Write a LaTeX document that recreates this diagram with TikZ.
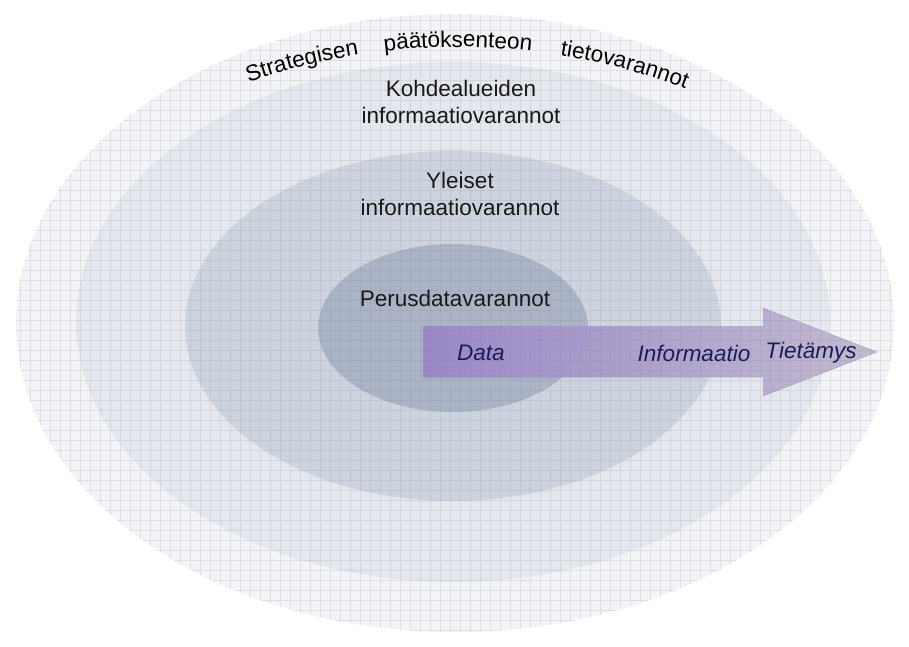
\documentclass[tikz,border=0pt]{standalone}
\usepackage{fontspec}
\setmainfont{Liberation Sans}
\usepackage{xcolor}
\usetikzlibrary{decorations.text}

\definecolor{ringOuter}{HTML}{F3F4F7}
\definecolor{ringSecond}{HTML}{E4E7ED}
\definecolor{ringThird}{HTML}{CED4DF}
\definecolor{ringInner}{HTML}{AAB4C6}
\definecolor{arrowLeft}{HTML}{B9A2F2}
\definecolor{arrowRight}{HTML}{E8DEFA}
\definecolor{arrowText}{HTML}{1C1C5C}

\newcommand{\toptxt}{\fontsize{16}{19}\selectfont}

\tikzset{
    lbl/.style={font=\fontsize{16}{19}\selectfont, text=black!90, align=center},
    arrlbl/.style={font=\fontsize{16}{19}\selectfont\itshape, text=arrowText},
    gridline/.style={draw=gray, line width=0.25pt, opacity=0.18},
    arctext/.style={decorate, decoration={text along path, text align=center, text={|\toptxt|#1}}}
}

\begin{document}
\begin{tikzpicture}[x=0.025cm,y=0.025cm]
            \useasboundingbox (0,0) rectangle (909,-646);
            \fill[white] (0,0) rectangle (909,-646);

            \fill[ringOuter] (455,-323) ellipse [x radius=439, y radius=309];
            \fill[ringSecond] (453,-322) ellipse [x radius=377, y radius=260];
            \fill[ringThird] (453,-326) ellipse [x radius=268, y radius=175];
            \fill[ringInner] (453,-328) ellipse [x radius=135, y radius=84];

            \fill[left color=arrowLeft, right color=arrowRight, fill opacity=0.8]
                (423,-326) -- (763,-326) -- (763,-308) -- (877,-352)
                -- (763,-396) -- (763,-377) -- (423,-377) -- cycle;

            \begin{scope}
                \clip (455,-323) ellipse [x radius=439, y radius=309];
                \draw[gridline, step=10] (0,0) grid (909,-646);
            \end{scope}

            \path[arctext=Strategisen] ([shift={(112:640)}]458,-687) arc[start angle=112, end angle=96, radius=640];
            \path[arctext=päätöksenteon] ([shift={(98:640)}]458,-687) arc[start angle=98, end angle=82, radius=640];
            \path[arctext=tietovarannot] ([shift={(83:640)}]458,-687) arc[start angle=83, end angle=67, radius=640];

            \node[lbl] (kohde) at (461,-102) {Kohdealueiden\\informaatiovarannot};
            \node[lbl] (yleiset) at (460,-194) {Yleiset\\informaatiovarannot};
            \node[lbl] (perus) at (455,-298) {Perusdatavarannot};

            \node[arrlbl] (data) at (481,-353) {Data};
            \node[arrlbl] (info) at (694,-353) {Informaatio};
            \node[arrlbl] (tieto) at (811,-353) {Tietämys};
        \end{tikzpicture}
\end{document}
